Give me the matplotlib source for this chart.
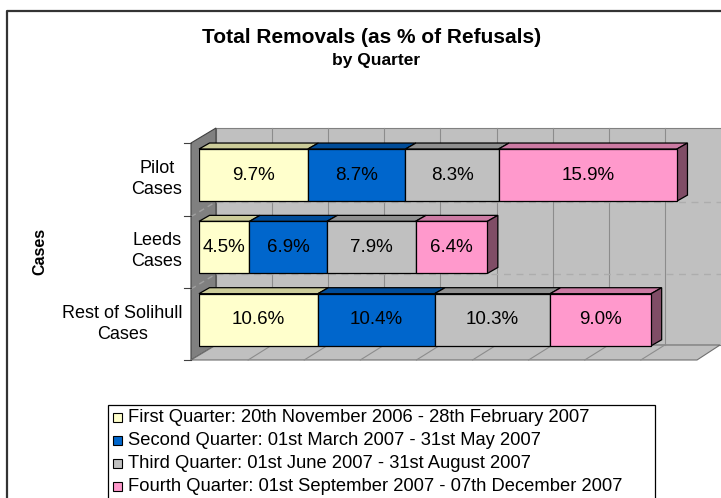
import matplotlib
matplotlib.use("Agg")
import matplotlib.pyplot as plt
from matplotlib.patches import Polygon, Rectangle

plt.rcParams['font.family'] = ['Liberation Sans', 'DejaVu Sans']

# ---------------- data ----------------
categories = ['Pilot\nCases', 'Leeds\nCases', 'Rest of Solihull\nCases']
series_names = ['First Quarter: 20th November 2006 - 28th February 2007',
                'Second Quarter: 01st March 2007 - 31st May 2007',
                'Third Quarter: 01st June 2007 - 31st August 2007',
                'Fourth Quarter: 01st September 2007 - 07th December 2007']
q1 = [9.7, 4.5, 10.6]
q2 = [8.7, 6.9, 10.4]
q3 = [8.3, 7.9, 10.3]
q4 = [15.9, 6.4, 9.0]
series_values = [q1, q2, q3, q4]
value_labels = [[f'{v:.1f}%' for v in s] for s in series_values]

front_colors = ['#FFFFCC', '#0066CC', '#C0C0C0', '#FF99CC']
top_colors = ['#CCCC99', '#004C99', '#909090', '#CC7AA3']
side_color = '#804D66'

W, H = 721, 498
fig = plt.figure(figsize=(W / 100, H / 100), dpi=100)

# background (pixel coordinates) for chart chrome
bg = fig.add_axes([0, 0, 1, 1])
bg.set_xlim(0, W)
bg.set_ylim(H, 0)
bg.axis('off')

# outer chart border
bg.plot([7, 7, W + 5], [H + 5, 11, 11], color='#333333', lw=1.6, solid_capstyle='butt')

# 3D box: back wall, left wall, floor
back_l, back_t, back_b = 216, 128, 345
front_l, front_t, front_b = 191, 143, 360
bg.add_patch(Polygon([(back_l, back_t), (W + 2, back_t), (W + 2, back_b), (back_l, back_b)],
                     closed=True, facecolor='#C0C0C0', edgecolor='#808080', lw=0.8, zorder=1))
bg.add_patch(Polygon([(front_l, front_t), (back_l, back_t), (back_l, back_b), (front_l, front_b)],
                     closed=True, facecolor='#808080', edgecolor='#404040', lw=0.8, zorder=1))
bg.add_patch(Polygon([(front_l, front_b), (697, front_b), (720, back_b), (back_l, back_b)],
                     closed=True, facecolor='#C0C0C0', edgecolor='#707070', lw=0.8, zorder=1))
# back wall vertical gridlines and floor gridlines
px_per = 11.22
for k in range(1, 9):
    xb = back_l + k * 5 * px_per
    bg.plot([xb, xb], [back_t, back_b], color='#8C8C8C', lw=0.8, zorder=1.5)
    bg.plot([xb - 24, xb], [front_b, back_b], color='#8C8C8C', lw=0.8, zorder=1.5)
# dashed category separators on back and left wall
for yb in [216.7, 289.0]:
    bg.plot([back_l, W], [yb - 15, yb - 15], color='#ADADAD', lw=1.0, ls=(0, (5, 4)), zorder=1.5)
    bg.plot([front_l, back_l], [yb, yb - 15], color='#A0A0A0', lw=1.0, ls=(0, (4, 3)), zorder=1.5)
# category ticks
for k in range(4):
    y = 143.3 + k * 72.25
    bg.plot([184, front_l], [y, y], color='#404040', lw=0.8, zorder=1.5)

# title and axis title
bg.text(372, 37, 'Total Removals (as % of Refusals)', ha='center', va='center',
        fontsize=15, fontweight='bold')
bg.text(376, 60, 'by Quarter', ha='center', va='center', fontsize=12.5, fontweight='bold')
bg.text(40, 251, 'Cases', rotation=90, ha='center', va='center', fontsize=11.5, fontweight='bold')

# ---------------- bars ----------------
y_front_top, y_front_bot = 138.9, 355.9
ax = fig.add_axes([199 / W, (H - y_front_bot) / H, 45 * px_per / W, (y_front_bot - y_front_top) / H])
ax.set_xlim(0, 45)
ax.set_ylim(-0.5, 2.5)
ax.patch.set_alpha(0)
for s in ax.spines.values():
    s.set_visible(False)
ax.set_xticks([])
ypos = [2, 1, 0]
ax.set_yticks(ypos)
ax.set_yticklabels(categories, fontsize=13, linespacing=1.3)
for t in ax.get_yticklabels():
    t.set_multialignment('center')
ax.tick_params(axis='y', length=0, pad=12)

bar_h = 0.72
ddx = 10.5 / px_per
ddy = 6.0 / 72.33
left = [0.0] * 3
for si, vals in enumerate(series_values):
    ax.barh(ypos, vals, left=left, height=bar_h, color=front_colors[si],
            edgecolor='black', lw=0.9, zorder=3)
    for ci, v in enumerate(vals):
        x0, x1 = left[ci], left[ci] + v
        yt = ypos[ci] + bar_h / 2
        yb = ypos[ci] - bar_h / 2
        ax.add_patch(Polygon([(x0, yt), (x1, yt), (x1 + ddx, yt + ddy), (x0 + ddx, yt + ddy)],
                             closed=True, facecolor=top_colors[si], edgecolor='black',
                             lw=0.9, zorder=2.5, clip_on=False))
        if si == len(series_values) - 1:
            ax.add_patch(Polygon([(x1, yb), (x1, yt), (x1 + ddx, yt + ddy), (x1 + ddx, yb + ddy)],
                                 closed=True, facecolor=side_color, edgecolor='black',
                                 lw=0.9, zorder=2.5, clip_on=False))
        ax.text((x0 + x1) / 2, ypos[ci], value_labels[si][ci], ha='center', va='center',
                fontsize=13.5, zorder=4)
    left = [l + v for l, v in zip(left, vals)]

# ---------------- legend ----------------
leg_l, leg_t = 108, 405
bg.add_patch(Rectangle((leg_l, leg_t), 655 - leg_l, 120, facecolor='white',
                       edgecolor='black', lw=0.9, zorder=5))
for i, name in enumerate(series_names):
    y = 417 + i * 23.3
    bg.add_patch(Rectangle((113, y - 4.5), 9, 9, facecolor=front_colors[i],
                           edgecolor='black', lw=0.8, zorder=6))
    bg.text(128, y, name, ha='left', va='center', fontsize=13.2, zorder=6)

fig.savefig('out.png', dpi=100)
